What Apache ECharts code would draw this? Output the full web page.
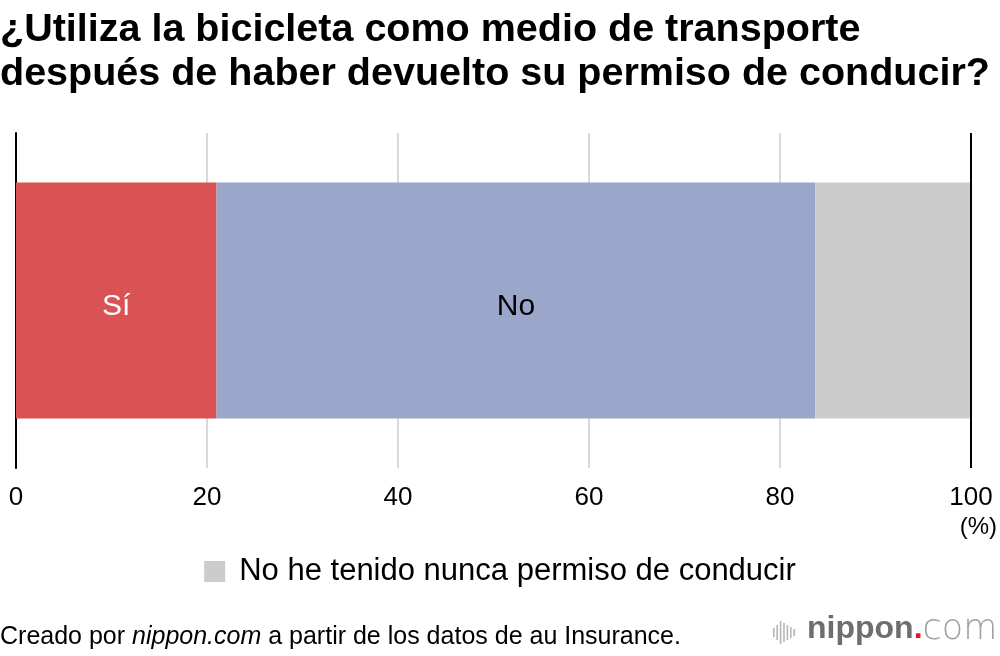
<!DOCTYPE html>
<html><head><meta charset="utf-8">
<script src="https://cdn.jsdelivr.net/npm/echarts@6/dist/echarts.min.js"></script>
<style>html,body{margin:0;padding:0;background:#fff}#c{width:1000px;height:656px}</style>
</head><body><div id="c"></div>
<script>
const categories = ['Respuesta'];
const seriesNames = ['Sí', 'No', 'No he tenido nunca permiso de conducir'];
const valuesSi = [21.0];
const valuesNo = [62.7];
const valuesNunca = [16.3];
const xTicks = [0, 20, 40, 60, 80, 100];
const colors = ['#d95355', '#9aa7ca', '#cccccc'];
const FONT = '"Liberation Sans", Arial, sans-serif';

const chart = echarts.init(document.getElementById('c'));
const bars = [[0,8,9],[3.4,5,15],[6.8,1,23],[10.2,3,19],[13.6,5,15],[17,7,11],[20.4,9,7]];
chart.setOption({
  animation: false,
  textStyle: { fontFamily: FONT },
  title: {
    text: '¿Utiliza la bicicleta como medio de transporte\ndespués de haber devuelto su permiso de conducir?',
    left: 0, top: 8, padding: 0,
    textStyle: { fontSize: 39.5, fontWeight: 'bold', color: '#000', lineHeight: 44, fontFamily: FONT }
  },
  grid: { left: 16, right: 29, top: 133, bottom: 188, containLabel: false },
  legend: {
    data: [seriesNames[2]], left: 'center', top: 551,
    icon: 'rect', itemWidth: 21, itemHeight: 21, itemGap: 10,
    textStyle: { fontSize: 31, color: '#000', fontFamily: FONT, padding: [0, 0, 0, 9] }
  },
  xAxis: {
    type: 'value', min: 0, max: 100, interval: 20,
    axisLine: { show: false }, axisTick: { show: false },
    axisLabel: { fontSize: 26, color: '#000', margin: 17, fontFamily: FONT,
      formatter: v => xTicks.includes(v) ? String(v) : '' },
    splitLine: { show: true, lineStyle: { color: '#cccccc', width: 1.5 } }
  },
  yAxis: {
    type: 'category', data: categories,
    axisLine: { show: true, lineStyle: { color: '#000', width: 2 } },
    axisTick: { show: false }, axisLabel: { show: false }
  },
  series: [
    { name: seriesNames[0], type: 'bar', stack: 't', data: valuesSi, barWidth: 236,
      itemStyle: { color: colors[0] },
      label: { show: true, position: 'inside', offset: [0, 6], formatter: seriesNames[0], color: '#fff', fontSize: 30, fontFamily: FONT } },
    { name: seriesNames[1], type: 'bar', stack: 't', data: valuesNo, barWidth: 236,
      itemStyle: { color: colors[1] },
      label: { show: true, position: 'inside', offset: [0, 6], formatter: seriesNames[1], color: '#000', fontSize: 30, fontFamily: FONT } },
    { name: seriesNames[2], type: 'bar', stack: 't', data: valuesNunca, barWidth: 236,
      itemStyle: { color: colors[2] },
      markLine: { silent: true, symbol: 'none', label: { show: false },
        lineStyle: { color: '#000', width: 2, type: 'solid' }, data: [{ xAxis: 100 }] } }
  ],
  graphic: [
    { type: 'text', right: 3, top: 515, style: { text: '(%)', fontSize: 24, fill: '#000', fontFamily: FONT } },
    { type: 'text', left: 0, top: 625, style: {
        text: '{a|Creado por }{b|nippon.com}{a| a partir de los datos de au Insurance.}',
        rich: { a: { fontSize: 25, fill: '#000', fontFamily: FONT }, b: { fontSize: 25, fill: '#000', fontStyle: 'italic', fontFamily: FONT } } } },
    { type: 'group', left: 773, top: 621, children: bars.map(b => (
      { type: 'rect', shape: { x: b[0], y: b[1], width: 1.6, height: b[2] }, style: { fill: '#b5b5b5' } })) },
    { type: 'text', left: 807, top: 612, style: {
        text: '{n|nippon}{d|.}{c|com}',
        rich: { n: { fontSize: 32, fontWeight: 'bold', fill: '#6e6e6e', fontFamily: FONT },
                d: { fontSize: 32, fontWeight: 'bold', fill: '#e8141e', fontFamily: FONT },
                c: { fontSize: 35, fill: '#a0a0a0', fontFamily: '"DejaVu Sans", sans-serif', fontWeight: 'lighter' } } } }
  ]
});
</script></body></html>
